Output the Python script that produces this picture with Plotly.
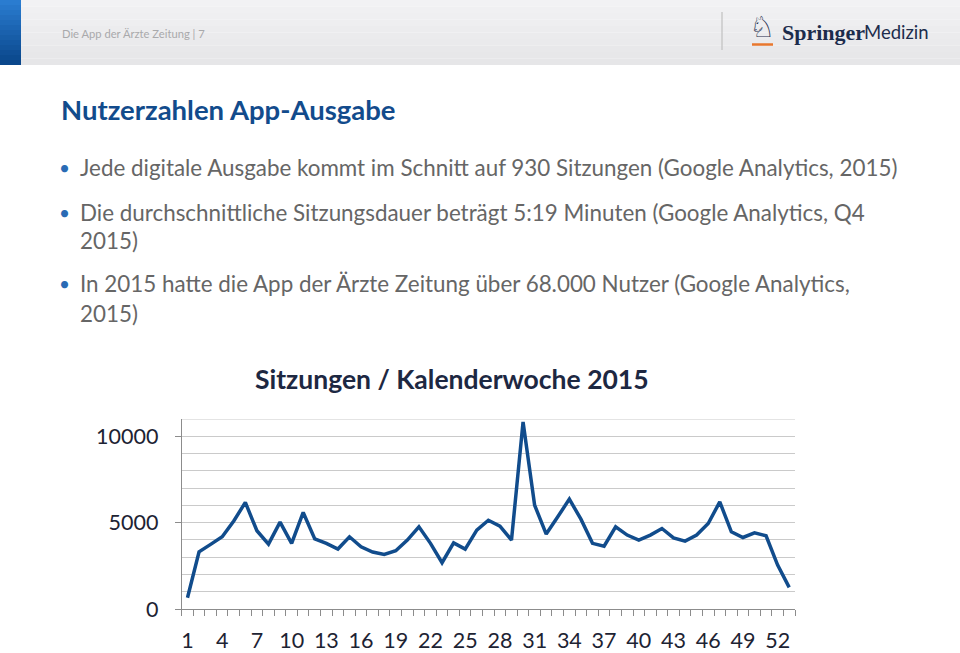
import plotly.graph_objects as go

W, H = 960, 653

# ---- data ----
weeks = list(range(1, 54))
sessions = [650, 3310, 3740, 4180, 5100, 6170, 4530, 3760, 5030, 3800,
            5590, 4060, 3800, 3470, 4180, 3600, 3300, 3160, 3370, 3990,
            4760, 3800, 2680, 3830, 3470, 4570, 5140, 4800, 3990, 10830,
            6010, 4340, 5340, 6360, 5200, 3800, 3640, 4760, 4280, 3990,
            4280, 4660, 4120, 3930, 4280, 4950, 6200, 4470, 4140, 4410,
            4240, 2540, 1250]
x_tick_vals = list(range(1, 53, 3))
x_tick_text = [str(v) for v in x_tick_vals]
y_tick_vals = [0, 5000, 10000]
y_tick_text = ["0", "5000", "10000"]

header_text = "Die App der Ärzte Zeitung | 7"
title_text = "Nutzerzahlen App-Ausgabe"
bullet_lines = [
    ("Jede digitale Ausgabe kommt im Schnitt auf 930 Sitzungen (Google Analytics, 2015)", True, 168),
    ("Die durchschnittliche Sitzungsdauer beträgt 5:19 Minuten (Google Analytics, Q4", True, 212),
    ("2015)", False, 241),
    ("In 2015 hatte die App der Ärzte Zeitung über 68.000 Nutzer (Google Analytics,", True, 284),
    ("2015)", False, 313),
]
chart_title = "Sitzungen / Kalenderwoche 2015"

def px(x):
    return x / W

def py(y):
    return 1 - y / H

# plot area in pixels
PL, PR, PT, PB = 181.7, 795, 419, 609

fig = go.Figure()
fig.add_trace(go.Scatter(
    x=weeks, y=sessions, mode="lines",
    line=dict(color="#114c8c", width=3.5),
    hoverinfo="skip", showlegend=False,
))

shapes = []
# header background (vertical gradient via strips)
hs = 10
g0, g1 = 0xf2, 0xe6
for i in range(hs):
    t = i / (hs - 1)
    g = int(g0 + (g1 - g0) * t)
    col = "rgb(%d,%d,%d)" % (g, g, g + 2)
    shapes.append(dict(type="rect", xref="paper", yref="paper", x0=0, x1=1,
                       y0=py(65 * (i + 1) / hs), y1=py(65 * i / hs),
                       fillcolor=col, line=dict(width=0), layer="below"))
# blue bar gradient (strips)
n = 13
c0 = (0x2a, 0x7c, 0xd0)
c1 = (0x0a, 0x47, 0x8b)
for i in range(n):
    t = i / (n - 1)
    col = "rgb(%d,%d,%d)" % tuple(int(c0[k] + (c1[k] - c0[k]) * t) for k in range(3))
    y0 = 65 * i / n
    y1 = 65 * (i + 1) / n
    shapes.append(dict(type="rect", xref="paper", yref="paper", x0=0, x1=px(21),
                       y0=py(y1), y1=py(y0), fillcolor=col, line=dict(width=0), layer="below"))
# separator line in header
shapes.append(dict(type="line", xref="paper", yref="paper", x0=px(722), x1=px(722),
                   y0=py(50), y1=py(12), line=dict(color="#c0c0c0", width=1.2)))
# orange underline of logo
shapes.append(dict(type="line", xref="paper", yref="paper", x0=px(752), x1=px(773),
                   y0=py(44.5), y1=py(44.5), line=dict(color="#e8772e", width=2.5)))
# top gridline at 11000
shapes.append(dict(type="line", xref="paper", yref="y", x0=px(PL), x1=px(PR),
                   y0=11000, y1=11000, line=dict(color="#cacaca", width=1), layer="below"))

annotations = []
annotations.append(dict(text=header_text, x=px(60), y=py(33), xref="paper", yref="paper",
                        xanchor="left", yanchor="middle", showarrow=False,
                        font=dict(family="Lato", size=11.2, color="#a9a9ab")))
annotations.append(dict(text="♘", x=px(762), y=py(27), xref="paper", yref="paper",
                        xanchor="center", yanchor="middle", showarrow=False,
                        font=dict(family="DejaVu Sans", size=29, color="#1c2c4c")))
annotations.append(dict(text="<b>Springer</b>", x=px(780), y=py(32), xref="paper", yref="paper",
                        xanchor="left", yanchor="middle", showarrow=False,
                        font=dict(family="Liberation Serif", size=22, color="#1c2c4c")))
annotations.append(dict(text="Medizin", x=px(931), y=py(32), xref="paper", yref="paper",
                        xanchor="right", yanchor="middle", showarrow=False,
                        font=dict(family="Lato", size=18.5, color="#1c2c4c")))
annotations.append(dict(text="<b>" + title_text + "</b>", x=px(59), y=py(110), xref="paper", yref="paper",
                        xanchor="left", yanchor="middle", showarrow=False,
                        font=dict(family="Lato", size=27.5, color="#124b8c")))
for txt, has_bullet, yy in bullet_lines:
    if has_bullet:
        annotations.append(dict(text="•", x=px(64), y=py(yy), xref="paper", yref="paper",
                                xanchor="center", yanchor="middle", showarrow=False,
                                font=dict(family="Lato", size=19, color="#2a6bb5")))
    annotations.append(dict(text=txt, x=px(78), y=py(yy), xref="paper", yref="paper",
                            xanchor="left", yanchor="middle", showarrow=False,
                            font=dict(family="Lato", size=22.4, color="#666666")))
annotations.append(dict(text="<b>" + chart_title + "</b>", x=px(452), y=py(379), xref="paper", yref="paper",
                        xanchor="center", yanchor="middle", showarrow=False,
                        font=dict(family="Lato", size=26.5, color="#1d2842")))

fig.update_layout(
    width=W, height=H,
    margin=dict(l=0, r=0, t=0, b=0),
    paper_bgcolor="white", plot_bgcolor="white",
    shapes=shapes, annotations=annotations,
    xaxis=dict(
        domain=[px(PL), px(PR)], range=[0.5, 53.5],
        tickvals=x_tick_vals, ticktext=x_tick_text, ticks="",
        showgrid=False, zeroline=False, showline=True, linecolor="#8c8c8c", linewidth=1,
        tickfont=dict(family="Lato", size=21.5, color="#1d2333"),
        ticklabelstandoff=12,
        minor=dict(tick0=0.5, dtick=1, ticks="outside", ticklen=6, tickcolor="#8c8c8c", showgrid=False),
        automargin=False, fixedrange=True,
    ),
    yaxis=dict(
        domain=[1 - PB / H, 1 - PT / H], range=[0, 11000],
        tickvals=y_tick_vals, ticktext=y_tick_text, ticks="outside", ticklen=6, tickcolor="#8c8c8c",
        showgrid=False, zeroline=False, showline=True, linecolor="#8c8c8c", linewidth=1,
        tickfont=dict(family="Lato", size=21.5, color="#1d2333"),
        ticklabelstandoff=12,
        minor=dict(dtick=1000, tick0=0, showgrid=True, gridcolor="#cacaca", gridwidth=1, ticks=""),
        automargin=False, fixedrange=True,
    ),
)

fig.write_html(
    "out.html",
    config={"displayModeBar": False},
    post_script="document.body.style.margin='0';document.body.style.padding='0';document.body.style.overflow='hidden';",
)
